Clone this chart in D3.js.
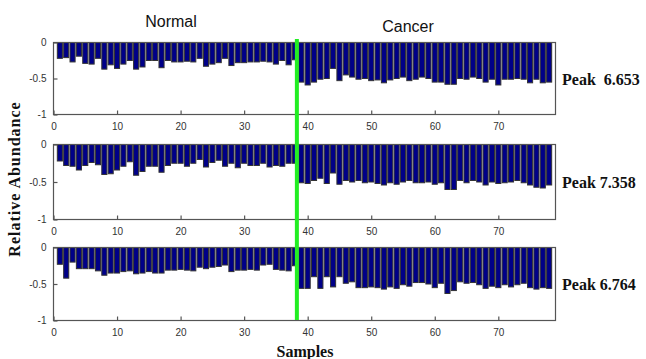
<!DOCTYPE html>
<html>
<head>
<meta charset="utf-8">
<script src="https://cdn.jsdelivr.net/npm/d3@7"></script>
<style>
  html, body { margin: 0; padding: 0; background: #fff; }
  svg { display: block; }
</style>
</head>
<body>
<svg id="chart" width="646" height="359"></svg>
<script>
// ---------------- DATA ----------------
const groupLabels = ["Normal", "Cancer"];
const normalCount = 38;           // samples 1..38 are Normal, 39..78 Cancer
const separatorX = 38.3;          // position of the green separator (sample axis units)
const samples = d3.range(1, 79);  // sample numbers 1..78
const xTicks = [0, 10, 20, 30, 40, 50, 60, 70];
const yTicks = [0, -0.5, -1];
const yTickLabels = ["0", "-0.5", "-1"];
const peakLabels = ["Peak  6.653", "Peak 7.358", "Peak 6.764"];

const peak6653 = [
  -0.22,-0.21,-0.27,-0.19,-0.29,-0.30,-0.22,-0.37,-0.31,-0.36,
  -0.30,-0.25,-0.37,-0.34,-0.25,-0.25,-0.35,-0.25,-0.27,-0.27,
  -0.26,-0.27,-0.22,-0.33,-0.30,-0.28,-0.22,-0.32,-0.28,-0.28,
  -0.27,-0.27,-0.26,-0.27,-0.30,-0.25,-0.31,-0.24,
  -0.55,-0.59,-0.55,-0.51,-0.50,-0.36,-0.53,-0.45,-0.48,-0.51,
  -0.50,-0.53,-0.52,-0.56,-0.52,-0.50,-0.48,-0.53,-0.51,-0.48,
  -0.50,-0.55,-0.55,-0.58,-0.58,-0.50,-0.51,-0.48,-0.50,-0.55,
  -0.51,-0.59,-0.51,-0.51,-0.50,-0.51,-0.56,-0.51,-0.56,-0.55
];
const peak7358 = [
  -0.22,-0.28,-0.29,-0.34,-0.28,-0.24,-0.27,-0.40,-0.39,-0.34,
  -0.29,-0.23,-0.41,-0.36,-0.29,-0.29,-0.37,-0.28,-0.25,-0.25,
  -0.29,-0.25,-0.20,-0.30,-0.24,-0.21,-0.29,-0.25,-0.31,-0.25,
  -0.28,-0.28,-0.25,-0.30,-0.28,-0.29,-0.25,-0.25,
  -0.51,-0.52,-0.48,-0.45,-0.52,-0.38,-0.53,-0.48,-0.50,-0.48,
  -0.51,-0.50,-0.52,-0.54,-0.51,-0.53,-0.50,-0.48,-0.51,-0.51,
  -0.50,-0.53,-0.51,-0.60,-0.60,-0.48,-0.51,-0.48,-0.50,-0.54,
  -0.50,-0.52,-0.51,-0.50,-0.48,-0.51,-0.54,-0.57,-0.58,-0.54
];
const peak6764 = [
  -0.23,-0.42,-0.20,-0.29,-0.29,-0.29,-0.32,-0.38,-0.35,-0.35,
  -0.33,-0.32,-0.36,-0.35,-0.33,-0.35,-0.35,-0.31,-0.31,-0.30,
  -0.31,-0.32,-0.27,-0.29,-0.27,-0.26,-0.24,-0.33,-0.31,-0.31,
  -0.30,-0.31,-0.24,-0.23,-0.30,-0.31,-0.32,-0.25,
  -0.56,-0.56,-0.40,-0.56,-0.40,-0.54,-0.40,-0.49,-0.47,-0.55,
  -0.55,-0.54,-0.55,-0.57,-0.54,-0.56,-0.51,-0.53,-0.48,-0.48,
  -0.50,-0.55,-0.49,-0.63,-0.59,-0.47,-0.49,-0.48,-0.51,-0.56,
  -0.53,-0.55,-0.51,-0.54,-0.51,-0.49,-0.55,-0.57,-0.55,-0.56
];
const panelSeries = [peak6653, peak7358, peak6764];

// ---------------- LAYOUT ----------------
const svg = d3.select("#chart");
const left = 53.5, right = 555.5;
const panels = [
  { top: 42.5, bottom: 114.5 },
  { top: 144.5, bottom: 219.5 },
  { top: 247.5, bottom: 320.5 }
];
const axisColor = "#555";
const tickFont = "Liberation Sans, Arial, sans-serif";
const serif = "Liberation Serif, Times New Roman, serif";

const x = d3.scaleLinear().domain([0, 79]).range([left, right]);
const barW = x(0.8) - x(0);

panels.forEach((p, i) => {
  const y = d3.scaleLinear().domain([-1, 0]).range([p.bottom, p.top]);
  const g = svg.append("g");
  const vals = panelSeries[i];

  // bars
  g.selectAll("rect.bar")
    .data(samples.map((s, k) => ({ s, v: vals[k] })))
    .join("rect")
    .attr("class", "bar")
    .attr("x", d => x(d.s) - barW / 2)
    .attr("y", y(0))
    .attr("width", barW)
    .attr("height", d => y(d.v) - y(0))
    .attr("fill", "#000088")
    .attr("stroke", "#333")
    .attr("stroke-width", 1);

  // box
  g.append("rect")
    .attr("x", left).attr("y", p.top)
    .attr("width", right - left).attr("height", p.bottom - p.top)
    .attr("fill", "none").attr("stroke", axisColor).attr("stroke-width", 1.2);

  // x axis (ticks pointing inward)
  const xAxis = d3.axisBottom(x).tickValues(xTicks).tickSize(-4).tickPadding(8)
    .tickFormat(d3.format("d"));
  const xa = g.append("g").attr("transform", `translate(0,${p.bottom})`).call(xAxis);
  xa.select(".domain").remove();
  xa.selectAll("line").attr("stroke", axisColor).attr("stroke-width", 1.2);
  xa.selectAll("text").attr("font-family", tickFont).attr("font-size", 10).attr("fill", "#333");

  // y axis (ticks pointing inward)
  const yAxis = d3.axisLeft(y).tickValues(yTicks).tickSize(-4).tickPadding(7)
    .tickFormat((d, k) => yTickLabels[k]);
  const ya = g.append("g").attr("transform", `translate(${left},0)`).call(yAxis);
  ya.select(".domain").remove();
  ya.selectAll("line").attr("stroke", axisColor).attr("stroke-width", 1.2);
  ya.selectAll("text").attr("font-family", tickFont).attr("font-size", 10).attr("fill", "#333");

  // peak label
  svg.append("text")
    .attr("x", 562).attr("y", (p.top + p.bottom) / 2 + 6)
    .attr("font-family", serif).attr("font-weight", "bold").attr("font-size", 16)
    .attr("fill", "#111")
    .style("white-space", "pre")
    .text(peakLabels[i]);
});

// green separator
svg.append("line")
  .attr("x1", x(separatorX)).attr("x2", x(separatorX))
  .attr("y1", 39).attr("y2", 320)
  .attr("stroke", "#22ee22").attr("stroke-width", 4);

// group labels
svg.append("text").attr("x", 171).attr("y", 27).attr("text-anchor", "middle")
  .attr("font-family", tickFont).attr("font-size", 16).attr("fill", "#111")
  .text(groupLabels[0]);
svg.append("text").attr("x", 408).attr("y", 32).attr("text-anchor", "middle")
  .attr("font-family", tickFont).attr("font-size", 16).attr("fill", "#111")
  .text(groupLabels[1]);

// axis titles
svg.append("text")
  .attr("transform", "translate(20,179) rotate(-90)")
  .attr("text-anchor", "middle")
  .attr("font-family", serif).attr("font-weight", "bold").attr("font-size", 16)
  .attr("letter-spacing", 1)
  .attr("fill", "#111")
  .text("Relative Abundance");
svg.append("text").attr("x", 305).attr("y", 357).attr("text-anchor", "middle")
  .attr("font-family", serif).attr("font-weight", "bold").attr("font-size", 16)
  .attr("fill", "#111")
  .text("Samples");
</script>
</body>
</html>
